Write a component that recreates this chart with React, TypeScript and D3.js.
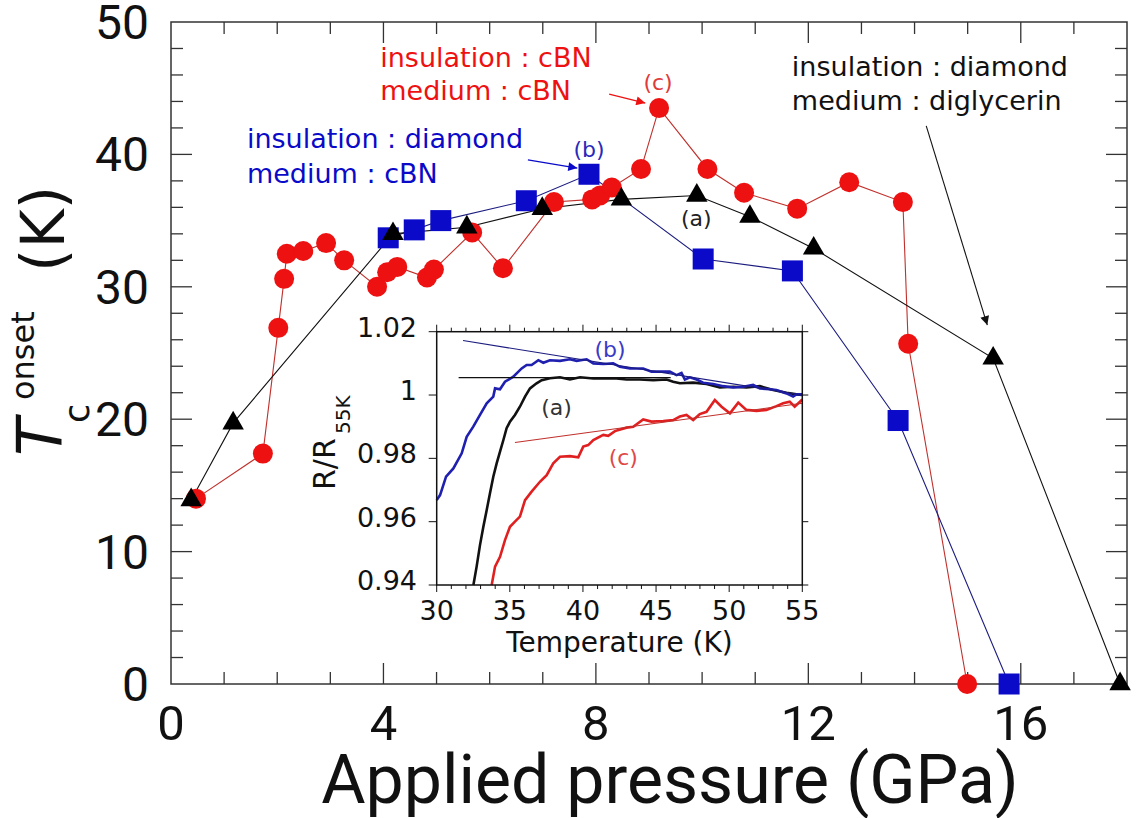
import React from 'react';
import * as d3 from 'd3';

// main panel: Tc onset vs applied pressure
const redP = [0.47, 1.73, 2.02, 2.13, 2.18, 2.49, 2.92, 3.26, 3.88, 4.07, 4.26, 4.82, 4.95, 5.67, 6.25, 7.21, 7.93, 8.08, 8.30, 8.85, 9.19, 10.10, 10.79, 11.79, 12.77, 13.78, 13.88, 14.99];
const redTc = [14.0, 17.4, 26.9, 30.6, 32.5, 32.7, 33.3, 32.0, 30.0, 31.1, 31.5, 30.7, 31.3, 34.1, 31.4, 36.4, 36.6, 36.9, 37.5, 38.9, 43.5, 38.9, 37.1, 35.9, 37.9, 36.4, 25.7, 0];
const blueP = [4.09, 4.58, 5.08, 6.69, 7.87, 10.02, 11.70, 13.69, 15.78];
const blueTc = [33.7, 34.3, 35.0, 36.5, 38.5, 32.1, 31.2, 19.9, 0];
const blackP = [0.38, 1.17, 4.18, 5.57, 6.99, 8.48, 9.90, 10.90, 12.10, 15.48, 17.87];
const blackTc = [13.9, 19.7, 34.0, 34.5, 35.9, 36.6, 36.9, 35.3, 32.9, 24.6, 0];

const xMajor = [0, 4, 8, 12, 16];
const yMajor = [0, 10, 20, 30, 40, 50];

// inset: R/R55K vs temperature
const inBlueT = [30, 30.23, 30.64, 31.14, 31.71, 32.05, 32.5, 32.96, 33.42, 33.87, 33.99, 34.33, 34.67, 35.24, 35.81, 36.15, 36.49, 36.95, 37.29, 37.74, 38.43, 39.11, 39.57, 40.25, 40.71, 41.39, 42.07, 42.53, 43.21, 44.12, 44.69, 45.26, 45.94, 46.4, 46.74, 46.97, 47.31, 47.77, 48.22, 48.91, 49.59, 50.27, 50.96, 51.64, 52.1, 52.78, 53.23, 53.92, 54.37, 54.6, 55];
const inBlueR = [0.9668, 0.9684, 0.9742, 0.9768, 0.9816, 0.9868, 0.990, 0.9937, 0.9974, 0.9995, 1.0021, 1.0018, 1.0042, 1.0058, 1.0084, 1.0095, 1.0095, 1.011, 1.0102, 1.011, 1.0108, 1.0113, 1.0108, 1.0113, 1.010, 1.0098, 1.010, 1.0089, 1.0084, 1.0084, 1.0074, 1.0074, 1.0074, 1.0063, 1.007, 1.0049, 1.0056, 1.0049, 1.0039, 1.0035, 1.0028, 1.0024, 1.0026, 1.0032, 1.0021, 1.0018, 1.0016, 1.0005, 0.9995, 1.0002, 1.0002];
const inBlackT = [32.51, 32.73, 32.96, 33.19, 33.42, 33.64, 33.87, 34.1, 34.33, 34.56, 34.78, 35.01, 35.35, 35.69, 36.04, 36.38, 36.83, 37.18, 37.74, 38.43, 39.11, 39.8, 40.71, 41.62, 42.3, 42.98, 43.89, 44.81, 45.72, 46.17, 46.63, 47.54, 48.45, 49.36, 50.27, 51.18, 52.1, 53.01, 53.92, 54.6, 55];
const inBlackR = [0.94, 0.9458, 0.9526, 0.9584, 0.9637, 0.9689, 0.9742, 0.9784, 0.9821, 0.9858, 0.9895, 0.9916, 0.9937, 0.9963, 0.9995, 1.0021, 1.0037, 1.0047, 1.0053, 1.0056, 1.0049, 1.0056, 1.0052, 1.0053, 1.0052, 1.0049, 1.0049, 1.0047, 1.0049, 1.0042, 1.0037, 1.0039, 1.0035, 1.0024, 1.0026, 1.0024, 1.0028, 1.0016, 1.0007, 1.0002, 1.0];
const inRedT = [33.76, 33.99, 34.33, 34.67, 35.01, 35.35, 35.69, 36.04, 36.49, 37.06, 37.52, 37.97, 38.43, 39.11, 39.68, 40.02, 40.36, 40.71, 41.39, 41.73, 42.19, 42.98, 43.44, 44.12, 44.69, 45.49, 46.17, 46.63, 47.08, 47.54, 47.99, 48.45, 49.02, 49.48, 50.05, 50.62, 51.18, 51.87, 52.55, 53.23, 53.69, 54.14, 54.48, 55];
const inRedR = [0.94, 0.9458, 0.9489, 0.9542, 0.9584, 0.960, 0.9616, 0.9668, 0.9695, 0.9726, 0.9747, 0.9784, 0.9805, 0.9807, 0.9803, 0.9837, 0.9842, 0.9858, 0.9874, 0.9871, 0.9886, 0.9897, 0.990, 0.9923, 0.9916, 0.9918, 0.9921, 0.9932, 0.9937, 0.9921, 0.994, 0.9947, 0.9984, 0.9963, 0.9942, 0.9976, 0.9953, 0.995, 0.9953, 0.9965, 0.9974, 0.9979, 0.9963, 0.9986];
// straight guide lines drawn over the curves
const fitBlueT = [31.8, 55];
const fitBlueR = [1.0172, 1.0];
const fitBlackT = [31.5, 46];
const fitBlackR = [1.0055, 1.0055];
const fitRedT = [35.35, 55];
const fitRedR = [0.985, 0.9974];
const inXTicks = [30, 35, 40, 45, 50, 55];
const inYTicks = [0.94, 0.96, 0.98, 1.0, 1.02];
const inYLabels = ['0.94', '0.96', '0.98', '1', '1.02'];

const RED = '#ee1111';
const BLUE = '#0a0ac8';
const FRAME = '#333';
const SANS = 'DejaVu Sans, Verdana, sans-serif';
const NUM = 'Roboto, sans-serif';

const zip = (xs: number[], ys: number[]) => xs.map((x, i) => [x, ys[i]] as [number, number]);

const App = () => {
	const x = d3.scaleLinear().domain([0, 18]).range([171, 1127]);
	const y = d3.scaleLinear().domain([0, 50]).range([684, 22]);
	const xi = d3.scaleLinear().domain([30, 55]).range([436.7, 802.3]);
	const yi = d3.scaleLinear().domain([0.94, 1.02]).range([585, 331.7]);

	const mainLine = d3.line<[number, number]>().x(d => x(d[0])).y(d => y(d[1]));
	const inLine = d3.line<[number, number]>().x(d => xi(d[0])).y(d => yi(d[1]));
	const tri = d3.symbol(d3.symbolTriangle, 200)();

	const [x0, x1] = x.range();
	const [y0, y1] = y.range();
	const [ix0, ix1] = xi.range();
	const [iy0, iy1] = yi.range();

	const arrow = (id: string, color: string) => (
		<marker id={id} viewBox='0 0 10 10' refX='10' refY='5' markerWidth='12' markerHeight='9' orient='auto' markerUnits='userSpaceOnUse'>
			<path d='M0,0 L10,5 L0,10 z' fill={color} />
		</marker>
	);

	return (
		<svg width={1139} height={818} style={{ position: 'absolute', left: 0, top: 0, background: '#fff' }}>
			<defs>
				{arrow('arR', RED)}
				{arrow('arB', BLUE)}
				{arrow('arK', '#111')}
			</defs>

			{/* main frame + inward ticks */}
			<rect x={x0} y={y1} width={x1 - x0} height={y0 - y1} fill='none' stroke={FRAME} strokeWidth={1.5} />
			{d3.range(1, 18).map(v => {
				const len = v % 4 === 0 ? 21 : 12;
				return (
					<g key={'xt' + v} stroke={FRAME} strokeWidth={1.3}>
						<line x1={x(v)} x2={x(v)} y1={y0} y2={y0 - len} />
						<line x1={x(v)} x2={x(v)} y1={y1} y2={y1 + len} />
					</g>
				);
			})}
			{d3.range(2, 50, 2).map(v => {
				const len = v % 10 === 0 ? 21 : 12;
				return (
					<g key={'yt' + v} stroke={FRAME} strokeWidth={1.3}>
						<line x1={x0} x2={x0 + len} y1={y(v)} y2={y(v)} />
						<line x1={x1} x2={x1 - len} y1={y(v)} y2={y(v)} />
					</g>
				);
			})}
			{xMajor.map(v => (
				<text key={'xl' + v} x={x(v)} y={740} textAnchor='middle' fontFamily={NUM} fontSize={49} fill='#111'>{v}</text>
			))}
			{yMajor.map(v => (
				<text key={'yl' + v} x={149} y={y(v) + 17} textAnchor='end' fontFamily={NUM} fontSize={48} fill='#111'>{v}</text>
			))}
			<text x={670} y={803} textAnchor='middle' fontFamily={NUM} fontSize={68} fill='#111'>Applied pressure (GPa)</text>
			<g transform='translate(61,456) rotate(-90)' fill='#111' fontFamily={SANS}>
				<text x={0} y={0} fontSize={62} fontStyle='italic'>T</text>
				<text x={33} y={28} fontSize={35}>c</text>
				<text x={56} y={-27} fontSize={32}>onset</text>
				<text x={184} y={3} fontSize={60}>(K)</text>
			</g>

			{/* series */}
			<path d={mainLine(zip(redP, redTc)) || ''} fill='none' stroke='#c0302c' strokeWidth={1.1} />
			<path d={mainLine(zip(blueP, blueTc)) || ''} fill='none' stroke='#1c1c80' strokeWidth={1.1} />
			<path d={mainLine(zip(blackP, blackTc)) || ''} fill='none' stroke='#111' strokeWidth={1.1} />
			{blueP.map((p, i) => (
				<rect key={'bs' + i} x={x(p) - 10.5} y={y(blueTc[i]) - 10.5} width={21} height={21} fill={BLUE} />
			))}
			{redP.map((p, i) => (
				<circle key={'rc' + i} cx={x(p)} cy={y(redTc[i])} r={10} fill={RED} />
			))}
			{blackP.map((p, i) => (
				<path key={'kt' + i} d={tri || ''} transform={`translate(${x(p)},${y(blackTc[i])})`} fill='#000' />
			))}

			{/* annotations */}
			<g fontFamily={SANS} fontSize={27}>
				<text x={x(3.94)} y={y(46.6)} fill={RED}>insulation : cBN</text>
				<text x={x(3.94)} y={y(44.1)} fill={RED}>medium : cBN</text>
				<text x={x(1.43)} y={y(40.48)} fill={BLUE}>insulation : diamond</text>
				<text x={x(1.43)} y={y(37.84)} fill={BLUE}>medium : cBN</text>
				<text x={x(11.69)} y={y(45.92)} fill='#111'>insulation : diamond</text>
				<text x={x(11.69)} y={y(43.35)} fill='#111'>medium : diglycerin</text>
			</g>
			<g fontFamily={SANS} fontSize={22} textAnchor='middle'>
				<text x={x(9.17)} y={y(44.86)} fill='#e03a3a'>(c)</text>
				<text x={x(7.87)} y={y(39.8)} fill='#2a2ab8'>(b)</text>
				<text x={x(9.89)} y={y(34.6)} fill='#222'>(a)</text>
			</g>
			<line x1={x(8.25)} y1={y(44.56)} x2={x(8.93)} y2={y(43.88)} stroke={RED} strokeWidth={1.3} markerEnd='url(#arR)' />
			<line x1={x(6.72)} y1={y(39.58)} x2={x(7.65)} y2={y(38.97)} stroke={BLUE} strokeWidth={1.3} markerEnd='url(#arB)' />
			<line x1={x(14.22)} y1={y(42.15)} x2={x(15.37)} y2={y(27.11)} stroke='#111' strokeWidth={1.1} markerEnd='url(#arK)' />

			{/* inset */}
			<g>
				<path d={inLine(zip(inBlackT, inBlackR)) || ''} fill='none' stroke='#111' strokeWidth={2.6} />
				<path d={inLine(zip(inBlueT, inBlueR)) || ''} fill='none' stroke='#1f1fb0' strokeWidth={2.6} />
				<path d={inLine(zip(inRedT, inRedR)) || ''} fill='none' stroke='#e02020' strokeWidth={2.6} />
				<path d={inLine(zip(fitBlueT, fitBlueR)) || ''} fill='none' stroke='#1c1c80' strokeWidth={1.1} />
				<path d={inLine(zip(fitBlackT, fitBlackR)) || ''} fill='none' stroke='#111' strokeWidth={1.3} />
				<path d={inLine(zip(fitRedT, fitRedR)) || ''} fill='none' stroke='#c0302c' strokeWidth={1.1} />
				<rect x={ix0} y={iy1} width={ix1 - ix0} height={iy0 - iy1} fill='none' stroke='#111' strokeWidth={1.5} />
				{d3.range(30, 56).map(v => {
					const len = v % 5 === 0 ? 7 : 4;
					return (
						<g key={'it' + v} stroke='#111' strokeWidth={1}>
							<line x1={xi(v)} x2={xi(v)} y1={iy0} y2={iy0 + len} />
							<line x1={xi(v)} x2={xi(v)} y1={iy1} y2={iy1 - len} />
						</g>
					);
				})}
				{inYTicks.map(v => (
					<g key={'iy' + v} stroke='#111' strokeWidth={1}>
						<line x1={ix0} x2={ix0 - 8} y1={yi(v)} y2={yi(v)} />
						<line x1={ix1} x2={ix1 + 6} y1={yi(v)} y2={yi(v)} />
					</g>
				))}
				{inXTicks.map(v => (
					<text key={'ixl' + v} x={xi(v)} y={620} textAnchor='middle' fontFamily={SANS} fontSize={27} fill='#111'>{v}</text>
				))}
				{inYTicks.map((v, i) => (
					<text key={'iyl' + v} x={417} y={yi(v) + 5} textAnchor='end' fontFamily={SANS} fontSize={27} fill='#111'>{inYLabels[i]}</text>
				))}
				<text x={(ix0 + ix1) / 2} y={652} textAnchor='middle' fontFamily={SANS} fontSize={28} fill='#111'>Temperature (K)</text>
				<g transform='translate(335,490) rotate(-90)' fontFamily={SANS} fill='#111'>
					<text x={0} y={0} fontSize={30}>R/R</text>
					<text x={56} y={15} fontSize={20}>55K</text>
				</g>
				<g fontFamily={SANS} fontSize={22} textAnchor='middle'>
					<text x={xi(41.85)} y={yi(1.0119)} fill='#3a3ac8'>(b)</text>
					<text x={xi(38.2)} y={yi(0.9937)} fill='#333'>(a)</text>
					<text x={xi(42.76)} y={yi(0.9779)} fill='#e04848'>(c)</text>
				</g>
			</g>
		</svg>
	);
};

export default App;
